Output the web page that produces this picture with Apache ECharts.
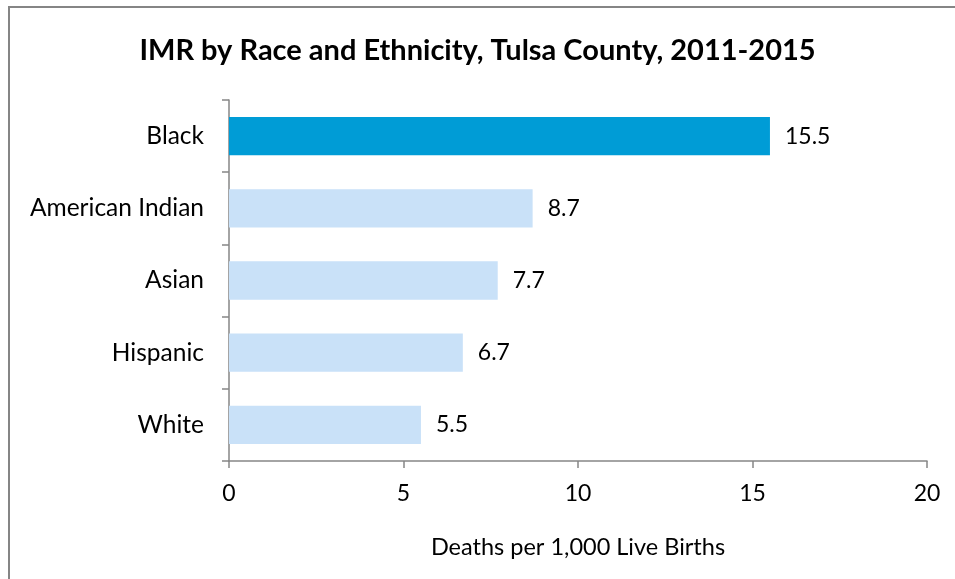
<!DOCTYPE html>
<html><head><meta charset="utf-8">
<script src="https://cdn.jsdelivr.net/npm/echarts@6/dist/echarts.min.js"></script>
<style>
html,body{margin:0;padding:0;background:#fff;overflow:hidden;}
#frame{position:absolute;left:8px;top:6px;width:960px;height:590px;border:2px solid #858585;box-sizing:border-box;}
#c{position:absolute;left:0;top:0;width:955px;height:579px;}
</style></head>
<body>
<div id="frame"></div>
<div id="c"></div>
<script>
const title = 'IMR by Race and Ethnicity, Tulsa County, 2011-2015';
const categories = ['Black', 'American Indian', 'Asian', 'Hispanic', 'White'];
const values = [15.5, 8.7, 7.7, 6.7, 5.5];
const xTicks = [0, 5, 10, 15, 20];
const xName = 'Deaths per 1,000 Live Births';
const highlight = 'Black';

const FONT = 'Lato, "Open Sans", sans-serif';
const chart = echarts.init(document.getElementById('c'), null, {renderer: 'canvas'});
chart.setOption({
  animation: false,
  title: {text: title, left: 'center', top: 31,
    textStyle: {fontFamily: FONT, fontSize: 29, fontWeight: 'bold', color: '#000'}},
  grid: {left: 229, right: 28, top: 100, bottom: 118, containLabel: false},
  xAxis: {type: 'value', min: xTicks[0], max: xTicks[xTicks.length-1], interval: 5,
    name: xName, nameLocation: 'middle', nameGap: 74,
    nameTextStyle: {fontFamily: FONT, fontSize: 23.5, color: '#000'},
    axisLine: {show: true, lineStyle: {color: '#868686', width: 1.5}},
    axisTick: {show: true, length: 7, lineStyle: {color: '#868686', width: 1.5}},
    splitLine: {show: false},
    axisLabel: {fontFamily: FONT, fontSize: 23, color: '#000', margin: 21}},
  yAxis: {type: 'category', data: categories, inverse: true,
    axisLine: {show: true, lineStyle: {color: '#868686', width: 1.5}},
    axisTick: {show: true, length: 7, lineStyle: {color: '#868686', width: 1.5}},
    axisLabel: {fontFamily: FONT, fontSize: 24.5, color: '#000', margin: 25}},
  series: [{type: 'bar', barWidth: '53%',
    data: values.map((v, i) => ({value: v, itemStyle: {color: categories[i] === highlight ? '#009CD6' : '#C9E1F8'}})),
    label: {show: true, position: 'right', distance: 15, fontFamily: FONT, fontSize: 23, color: '#000',
      formatter: p => p.value.toFixed(1)}}]
});
</script>
</body></html>
